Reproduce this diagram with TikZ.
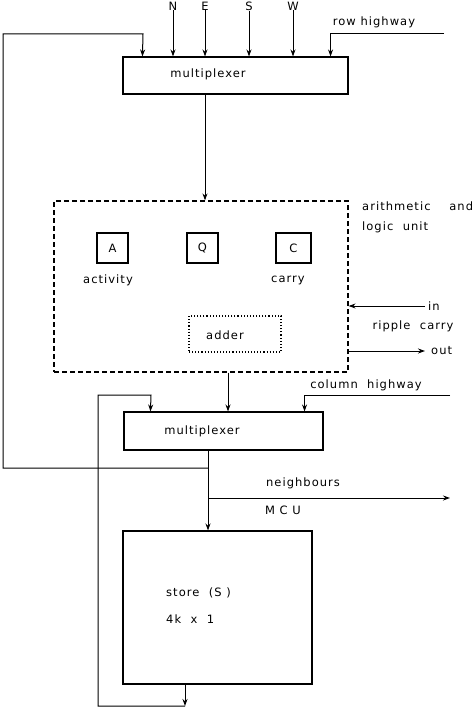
\documentclass[tikz,border=0pt]{standalone}
\usepackage{fontspec}
\setmainfont[LetterSpace=9]{DejaVu Sans}
\usetikzlibrary{positioning}
\usetikzlibrary{arrows.meta}
\tikzstyle{unit}=[rectangle, draw, line width=1.1pt, inner sep=0pt]
\tikzstyle{reg}=[unit, minimum width=31pt, minimum height=30pt]
\tikzstyle{lbl}=[inner sep=0pt, font=\fontsize{11.5}{13}\selectfont]
\tikzstyle{wire}=[line width=1pt]
\tikzstyle{arrw}=[-{Stealth[length=7pt,width=5pt]}, wire]

\begin{document}
\begin{tikzpicture}[x=1pt, y=-1pt]
\useasboundingbox (0,0) rectangle (474,709);

% units
\node[unit, minimum width=225pt, minimum height=37pt] (muxtop) at (235.5,75.5) {};
\node[lbl] (muxtoplbl) at (208,74) {multiplexer};

\node[unit, dashed, dash pattern=on 5pt off 3pt, line width=1.2pt,
  minimum width=294pt, minimum height=171pt] (alu) at (201,286.5) {};
\node[lbl, anchor=west] (alulbl) at (362,206) {arithmetic~~~~and};
\node[lbl, anchor=west] (alulbl2) at (362,227) {logic~~unit};

\node[reg] (regA) at (112.5,248) {\fontsize{11.5}{13}\selectfont A};
\node[reg] (regQ) at (202.5,248) {\fontsize{11.5}{13}\selectfont Q};
\node[reg, minimum width=35pt] (regC) at (293.5,248) {\fontsize{11.5}{13}\selectfont C};
\node[lbl] (actlbl) at (108,280) {activity};
\node[lbl] (carlbl) at (288,280) {carry};

\node[unit, dotted, line width=1.2pt, minimum width=92pt, minimum height=36pt]
  (adder) at (235,334) {};
\node[lbl] (adderlbl) at (225,335) {adder};

\node[unit, minimum width=199pt, minimum height=38pt] (muxbot) at (223.5,431) {};
\node[lbl] (muxbotlbl) at (202,431) {multiplexer};

\node[unit, minimum width=189pt, minimum height=153pt] (store) at (217.5,607.5) {};
\node[lbl, anchor=west] (storelbl) at (166,593) {store~~(S~)};
\node[lbl, anchor=west] (sizelbl) at (166,619) {4k~~x~~1};

% neighbour inputs
\foreach \d/\x in {N/173, E/205, S/249, W/293}
  \node[lbl] (in\d) at (\x,6) {\d};
\foreach \d in {N, E, S, W}
  \draw[arrw] (in\d) -- (in\d |- muxtop.north);

% row highway
\coordinate (rowin) at (444,34);
\node[lbl] (rowlbl) at (374,22) {row~highway};
\draw[arrw] (rowin) -| ([xshift=-18pt]muxtop.north east);

% multiplexer to alu
\coordinate (busa) at (205,0);
\draw[arrw] (busa |- muxtop.south) -- (busa |- alu.north);

% ripple carry
\coordinate (cin) at (425,306);
\coordinate (cout) at (425,351);
\node[lbl, anchor=west] (cinlbl) at (428,306) {in};
\node[lbl] (ripplbl) at (413,326) {ripple~~carry};
\node[lbl, anchor=west] (coutlbl) at (431,351) {out};
\draw[arrw] (cin) -- (alu.east |- cin);
\draw[arrw] (alu.east |- cout) -- (cout);

% alu to multiplexer
\coordinate (busb) at (228,0);
\draw[arrw] (busb |- alu.south) -- (busb |- muxbot.north);

% column highway
\coordinate (colin) at (450,395);
\node[lbl] (collbl) at (366,385) {column~~highway};
\draw[arrw] (colin) -| ([xshift=-19pt]muxbot.north east);

% multiplexer to store, feedback and neighbours
\coordinate (tap) at (208,468);
\coordinate (nbr) at (208,498);
\coordinate (nbrout) at (450,498);
\draw[arrw] (muxbot.south -| tap) -- (store.north -| tap);
\draw[arrw] (tap) -- (3,468) |- (143,34) -- ([xshift=20pt]muxtop.north west);
\draw[arrw] (nbr) -- (nbrout);
\node[lbl] (nbrlbl) at (303,483) {neighbours};
\node[lbl] (mculbl) at (283,510) {M~C~U};

% store output loop
\coordinate (sb) at (185,706);
\draw[arrw] (store.south -| sb) -- (sb);
\draw[arrw] (sb) -- (98,706) |- (151,395) -- ([xshift=27pt]muxbot.north west);

\end{tikzpicture}
\end{document}
